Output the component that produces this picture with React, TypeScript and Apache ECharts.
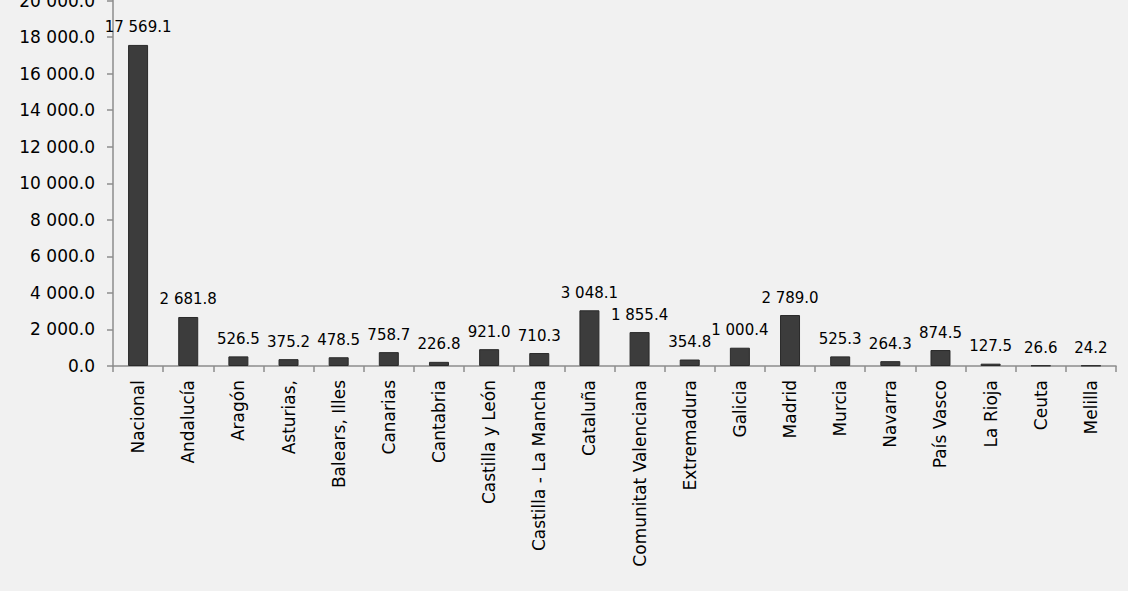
import React, { useEffect, useRef } from "react";
import * as echarts from "echarts";

const categories = [
  "Nacional", "Andalucía", "Aragón", "Asturias,", "Balears, Illes", "Canarias", "Cantabria",
  "Castilla y León", "Castilla - La Mancha", "Cataluña", "Comunitat Valenciana", "Extremadura",
  "Galicia", "Madrid", "Murcia", "Navarra", "País Vasco", "La Rioja", "Ceuta", "Melilla",
];
const values = [
  17569.1, 2681.8, 526.5, 375.2, 478.5, 758.7, 226.8, 921.0, 710.3, 3048.1,
  1855.4, 354.8, 1000.4, 2789.0, 525.3, 264.3, 874.5, 127.5, 26.6, 24.2,
];

function fmt(v: number): string {
  const s = v.toFixed(1);
  const [i, d] = s.split(".");
  return i.replace(/\B(?=(\d{3})+(?!\d))/g, " ") + "." + d;
}

export default function App() {
  const ref = useRef<HTMLDivElement>(null);
  useEffect(() => {
    const chart = echarts.init(ref.current!, null, { renderer: "svg" });
    chart.setOption({
      animation: false,
      backgroundColor: "#f1f1f1",
      textStyle: { fontFamily: "DejaVu Sans" },
      grid: {
        left: 113,
        right: 12,
        top: 0.5,
        bottom: 225,
        containLabel: false,
        outerBoundsMode: "none",
      },
      xAxis: {
        type: "category",
        data: categories,
        axisLine: { lineStyle: { color: "#8c8c8c", width: 1.5 } },
        axisTick: { show: true, length: 6, lineStyle: { color: "#8c8c8c", width: 1.5 } },
        axisLabel: { rotate: 90, color: "#000", fontSize: 17, margin: 14, interval: 0 },
      },
      yAxis: {
        type: "value",
        min: 0,
        max: 20000,
        interval: 2000,
        axisLine: { show: true, lineStyle: { color: "#8c8c8c", width: 1.5 } },
        axisTick: { show: true, length: 6, lineStyle: { color: "#8c8c8c", width: 1.5 } },
        splitLine: { show: false },
        axisLabel: { color: "#000", fontSize: 17, margin: 18, formatter: (v: number) => fmt(v) },
      },
      series: [
        {
          type: "bar",
          data: values,
          barWidth: 20,
          itemStyle: { color: "#3c3c3c", borderColor: "#2a2a2a", borderWidth: 1 },
          label: {
            show: true,
            position: "top",
            distance: 10,
            color: "#000",
            fontSize: 15,
            formatter: (p: any) => fmt(p.value),
          },
        },
      ],
    });
    return () => chart.dispose();
  }, []);
  return (
    <div
      ref={ref}
      style={{ position: "fixed", left: 0, top: 0, width: 1128, height: 591 }}
    />
  );
}
